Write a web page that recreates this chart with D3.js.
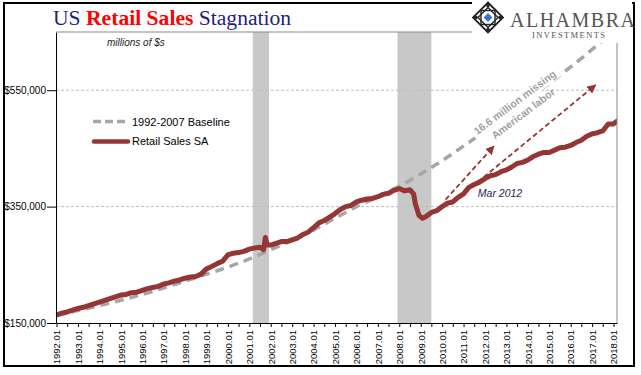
<!DOCTYPE html>
<html>
<head>
<meta charset="utf-8">
<script src="https://cdn.jsdelivr.net/npm/d3@7"></script>
<style>
  body { margin: 0; background: #fff; }
  svg { display: block; font-family: "Liberation Sans", Arial, sans-serif; }
</style>
</head>
<body>
<div id="chart"></div>
<script>
// Retail sales SA, $ millions (mostly quarterly)
const salesDates = [
  "1992-01","1992-04","1992-07","1992-10","1993-01","1993-04","1993-07","1993-10",
  "1994-01","1994-04","1994-07","1994-10","1995-01","1995-04","1995-07","1995-10",
  "1996-01","1996-04","1996-07","1996-10","1997-01","1997-04","1997-07","1997-10",
  "1998-01","1998-04","1998-07","1998-10","1999-01","1999-04","1999-07","1999-10",
  "2000-01","2000-04","2000-07","2000-10","2001-01","2001-04","2001-07","2001-09",
  "2001-10","2001-11","2002-01","2002-04","2002-07","2002-10","2003-01","2003-04",
  "2003-07","2003-10","2004-01","2004-04","2004-07","2004-10","2005-01","2005-04",
  "2005-07","2005-10","2006-01","2006-04","2006-07","2006-10","2007-01","2007-04",
  "2007-07","2007-10","2008-01","2008-04","2008-07","2008-09","2008-10","2008-12",
  "2009-02","2009-04","2009-07","2009-10","2010-01","2010-04","2010-07","2010-10",
  "2011-01","2011-04","2011-07","2011-10","2012-01","2012-04","2012-07","2012-10",
  "2013-01","2013-04","2013-07","2013-10","2014-01","2014-04","2014-07","2014-10",
  "2015-01","2015-04","2015-07","2015-10","2016-01","2016-04","2016-07","2016-10",
  "2017-01","2017-04","2017-07","2017-10","2018-01","2018-03"
];
const salesValues = [
  164000,167000,169000,172000,175000,177000,180000,183000,
  186000,189000,192000,195000,198000,199000,202000,203000,
  206000,209000,211000,213000,217000,219000,222000,224000,
  227000,229000,230000,234000,243000,247000,252000,256000,
  267000,270000,271000,273000,277000,279000,280000,276000,
  297000,284000,284000,287000,290000,290000,293000,296000,
  302000,306000,314000,322000,326000,332000,338000,345000,
  350000,352000,358000,361000,363000,364000,367000,371000,
  373000,378000,381000,377000,379000,372000,355000,335000,
  330000,333000,340000,343000,350000,356000,358000,366000,
  372000,383000,388000,392000,398000,403000,405000,410000,
  413000,418000,424000,426000,430000,436000,440000,443000,
  443000,447000,451000,452000,455000,460000,464000,471000,
  475000,477000,480000,492000,492000,497000
];

// 1992-2007 baseline trend, $ millions
const baseDates = [
  "1992-01","1994-01","1995-01","1996-01","1998-01","1999-01","2000-01","2001-01",
  "2002-01","2003-01","2004-01","2005-01","2006-01","2007-01","2008-01","2009-01",
  "2010-01","2011-01","2012-01","2013-01","2014-01","2015-01","2016-01","2017-01","2018-01"
];
const baseValues = [
  163000,180000,189000,199000,222000,234000,246000,260000,
  276000,292000,310000,330000,350000,367000,385000,406000,
  429000,454000,480000,508000,536000,562000,590000,620000,652000
];

const recessionStarts = ["2001-03","2007-12"];
const recessionEnds = ["2001-12","2009-07"];

const yTickValues = [150000, 350000, 550000];
const gridValues = [350000, 550000];

// arrows: start date/value and end date/value
const arrowFromDates = ["2010-03","2010-07"];
const arrowFromValues = [362000, 357000];
const arrowToDates = ["2012-06","2017-03"];
const arrowToValues = [454000, 559000];

const width = 641, height = 375;
const plot = { left: 56, right: 617, top: 32, bottom: 323 };
const parseMonth = d3.timeParse("%Y-%m");

const x = d3.scaleTime()
  .domain([parseMonth("1992-01"), parseMonth("2018-03")])
  .range([56.5, plot.right]);
const y = d3.scaleLinear()
  .domain([150000, 650000])
  .range([plot.bottom, plot.top]);

const sales = salesDates.map((d, i) => ({ date: parseMonth(d), value: salesValues[i] }));
const base = baseDates.map((d, i) => ({ date: parseMonth(d), value: baseValues[i] }));

const svg = d3.select("#chart").append("svg")
  .attr("width", width)
  .attr("height", height);

const defs = svg.append("defs");
defs.append("clipPath").attr("id", "plotclip")
  .append("rect")
  .attr("x", plot.left).attr("y", plot.top)
  .attr("width", plot.right - plot.left).attr("height", plot.bottom - plot.top);

defs.append("marker")
  .attr("id", "arrowhead")
  .attr("viewBox", "0 0 10 10")
  .attr("refX", 9).attr("refY", 5)
  .attr("markerWidth", 5).attr("markerHeight", 5)
  .attr("markerUnits", "strokeWidth")
  .attr("orient", "auto")
  .append("path").attr("d", "M0,0 L10,5 L0,10 Z").attr("fill", "#943634");

// recession shading
svg.append("g").selectAll("rect")
  .data(recessionStarts)
  .join("rect")
  .attr("x", d => x(parseMonth(d)))
  .attr("width", (d, i) => x(parseMonth(recessionEnds[i])) - x(parseMonth(d)))
  .attr("y", plot.top)
  .attr("height", plot.bottom - plot.top)
  .attr("fill", "#c8c8c8");

// gridlines
svg.append("g").selectAll("line")
  .data(gridValues)
  .join("line")
  .attr("x1", plot.left).attr("x2", plot.right)
  .attr("y1", d => y(d)).attr("y2", d => y(d))
  .attr("stroke", "#bdbdbd")
  .attr("stroke-dasharray", "3,2");

// baseline trend
svg.append("path")
  .datum(base)
  .attr("clip-path", "url(#plotclip)")
  .attr("fill", "none")
  .attr("stroke", "#a6a6a6")
  .attr("stroke-width", 3.5)
  .attr("stroke-dasharray", "9,6")
  .attr("d", d3.line().curve(d3.curveMonotoneX).x(d => x(d.date)).y(d => y(d.value)));

// retail sales
svg.append("path")
  .datum(sales)
  .attr("clip-path", "url(#plotclip)")
  .attr("fill", "none")
  .attr("stroke", "#943634")
  .attr("stroke-width", 5)
  .attr("stroke-linejoin", "round")
  .attr("stroke-linecap", "round")
  .attr("d", d3.line().x(d => x(d.date)).y(d => y(d.value)));

// dashed red arrows
svg.append("g").selectAll("line")
  .data(arrowFromDates)
  .join("line")
  .attr("x1", d => x(parseMonth(d)))
  .attr("y1", (d, i) => y(arrowFromValues[i]))
  .attr("x2", (d, i) => x(parseMonth(arrowToDates[i])))
  .attr("y2", (d, i) => y(arrowToValues[i]))
  .attr("stroke", "#943634")
  .attr("stroke-width", 1.8)
  .attr("stroke-dasharray", "5,3")
  .attr("marker-end", "url(#arrowhead)");

// rotated annotation, with a white box behind the first line
const ann = svg.append("g")
  .attr("transform", `translate(${x(parseMonth("2013-07"))},${y(524000)}) rotate(-37)`);
ann.append("rect")
  .attr("x", -53).attr("y", -10).attr("width", 106).attr("height", 13)
  .attr("fill", "#fff");
const annText = ann.append("text")
  .attr("text-anchor", "middle")
  .attr("fill", "#a0a0a0")
  .attr("font-weight", "bold")
  .attr("font-size", 10.5);
annText.append("tspan").attr("x", 0).attr("y", 0).text("16.6 million missing");
annText.append("tspan").attr("x", 0).attr("y", 14).text("American labor");

svg.append("text")
  .attr("x", x(parseMonth("2011-09")))
  .attr("y", y(366000))
  .attr("font-style", "italic")
  .attr("font-size", 10.5)
  .attr("fill", "#1f1f4f")
  .text("Mar 2012");

svg.append("text")
  .attr("x", 107).attr("y", 46)
  .attr("font-style", "italic")
  .attr("font-size", 10)
  .attr("fill", "#222")
  .text("millions of $s");

// legend
const legend = svg.append("g");
legend.append("line")
  .attr("x1", 93).attr("x2", 126).attr("y1", 121.5).attr("y2", 121.5)
  .attr("stroke", "#a6a6a6").attr("stroke-width", 3.5).attr("stroke-dasharray", "8,4");
legend.append("text").attr("x", 132).attr("y", 125.5).attr("font-size", 11).text("1992-2007 Baseline");
legend.append("line")
  .attr("x1", 94).attr("x2", 128).attr("y1", 141.5).attr("y2", 141.5)
  .attr("stroke", "#943634").attr("stroke-width", 4.5).attr("stroke-linecap", "round");
legend.append("text").attr("x", 132).attr("y", 145).attr("font-size", 11).text("Retail Sales SA");

// axes
const xAxis = d3.axisBottom(x)
  .tickValues(d3.timeMonth.every(6).range(parseMonth("1992-01"), parseMonth("2018-02")))
  .tickSize(4)
  .tickSizeOuter(0)
  .tickFormat(d => d.getMonth() === 0 ? d3.timeFormat("%Y.01")(d) : "");

svg.append("g")
  .attr("transform", `translate(0,${plot.bottom})`)
  .call(xAxis)
  .call(g => g.select(".domain").attr("stroke", "#000"))
  .call(g => g.selectAll("text")
    .attr("transform", "rotate(-90)")
    .attr("text-anchor", "end")
    .attr("x", -7).attr("y", 0).attr("dy", "0.35em")
    .attr("font-family", "Liberation Sans, Arial, sans-serif")
    .attr("font-size", 9.5)
    .attr("fill", "#000"));

const yAxis = d3.axisLeft(y)
  .tickValues(yTickValues)
  .tickSize(9)
  .tickSizeOuter(0)
  .tickPadding(1)
  .tickFormat(d => "$" + d3.format(",")(d));

svg.append("g")
  .attr("transform", `translate(${plot.left},0)`)
  .call(yAxis)
  .call(g => g.selectAll("text")
    .attr("font-family", "Liberation Sans, Arial, sans-serif")
    .attr("font-size", 10)
    .attr("fill", "#000"));

// plot border top/right
svg.append("path")
  .attr("d", `M${plot.left},${plot.top}H${plot.right}V${plot.bottom}`)
  .attr("fill", "none")
  .attr("stroke", "#888")
  .attr("stroke-width", 1);

// outer frame
svg.append("rect")
  .attr("x", 4).attr("y", 3)
  .attr("width", 630).attr("height", 363)
  .attr("fill", "none")
  .attr("stroke", "#000")
  .attr("stroke-width", 2);

// title
const title = svg.append("text")
  .attr("x", 53).attr("y", 25)
  .attr("font-family", "Liberation Serif, Times New Roman, serif")
  .attr("font-size", 21.6);
title.append("tspan").attr("fill", "#1f1f80").text("US ");
title.append("tspan").attr("fill", "#ff0000").attr("font-weight", "bold").text("Retail Sales");
title.append("tspan").attr("fill", "#1f1f80").text(" Stagnation");

// logo box
svg.append("rect")
  .attr("x", 472).attr("y", 0).attr("width", 160).attr("height", 43)
  .attr("fill", "#fff");

const logo = svg.append("g").attr("transform", "translate(488,17.5)");
logo.append("path")
  .attr("d", "M0,-15L15,0L0,15L-15,0Z")
  .attr("fill", "none").attr("stroke", "#222").attr("stroke-width", 1.8);
logo.append("path")
  .attr("d", "M0,-10L10,0L0,10L-10,0Z")
  .attr("fill", "none").attr("stroke", "#222").attr("stroke-width", 1.4);
logo.append("rect")
  .attr("x", -7).attr("y", -7).attr("width", 14).attr("height", 14)
  .attr("fill", "none").attr("stroke", "#222").attr("stroke-width", 1.4);
[[0, -12], [12, 0], [0, 12], [-12, 0]].forEach(p => {
  logo.append("circle").attr("cx", p[0]).attr("cy", p[1]).attr("r", 1.8).attr("fill", "#222");
});
logo.append("path")
  .attr("d", "M0,-4.5L4.5,0L0,4.5L-4.5,0Z")
  .attr("fill", "#3d79c9");

svg.append("text")
  .attr("x", 510).attr("y", 27)
  .attr("font-family", "Liberation Serif, Times New Roman, serif")
  .attr("font-size", 20)
  .attr("fill", "#555")
  .attr("textLength", 125)
  .attr("lengthAdjust", "spacing")
  .text("ALHAMBRA");
svg.append("text")
  .attr("x", 532).attr("y", 37.5)
  .attr("font-family", "Liberation Serif, Times New Roman, serif")
  .attr("font-size", 8.5)
  .attr("fill", "#555")
  .attr("textLength", 73)
  .attr("lengthAdjust", "spacing")
  .text("INVESTMENTS");
</script>
</body>
</html>
